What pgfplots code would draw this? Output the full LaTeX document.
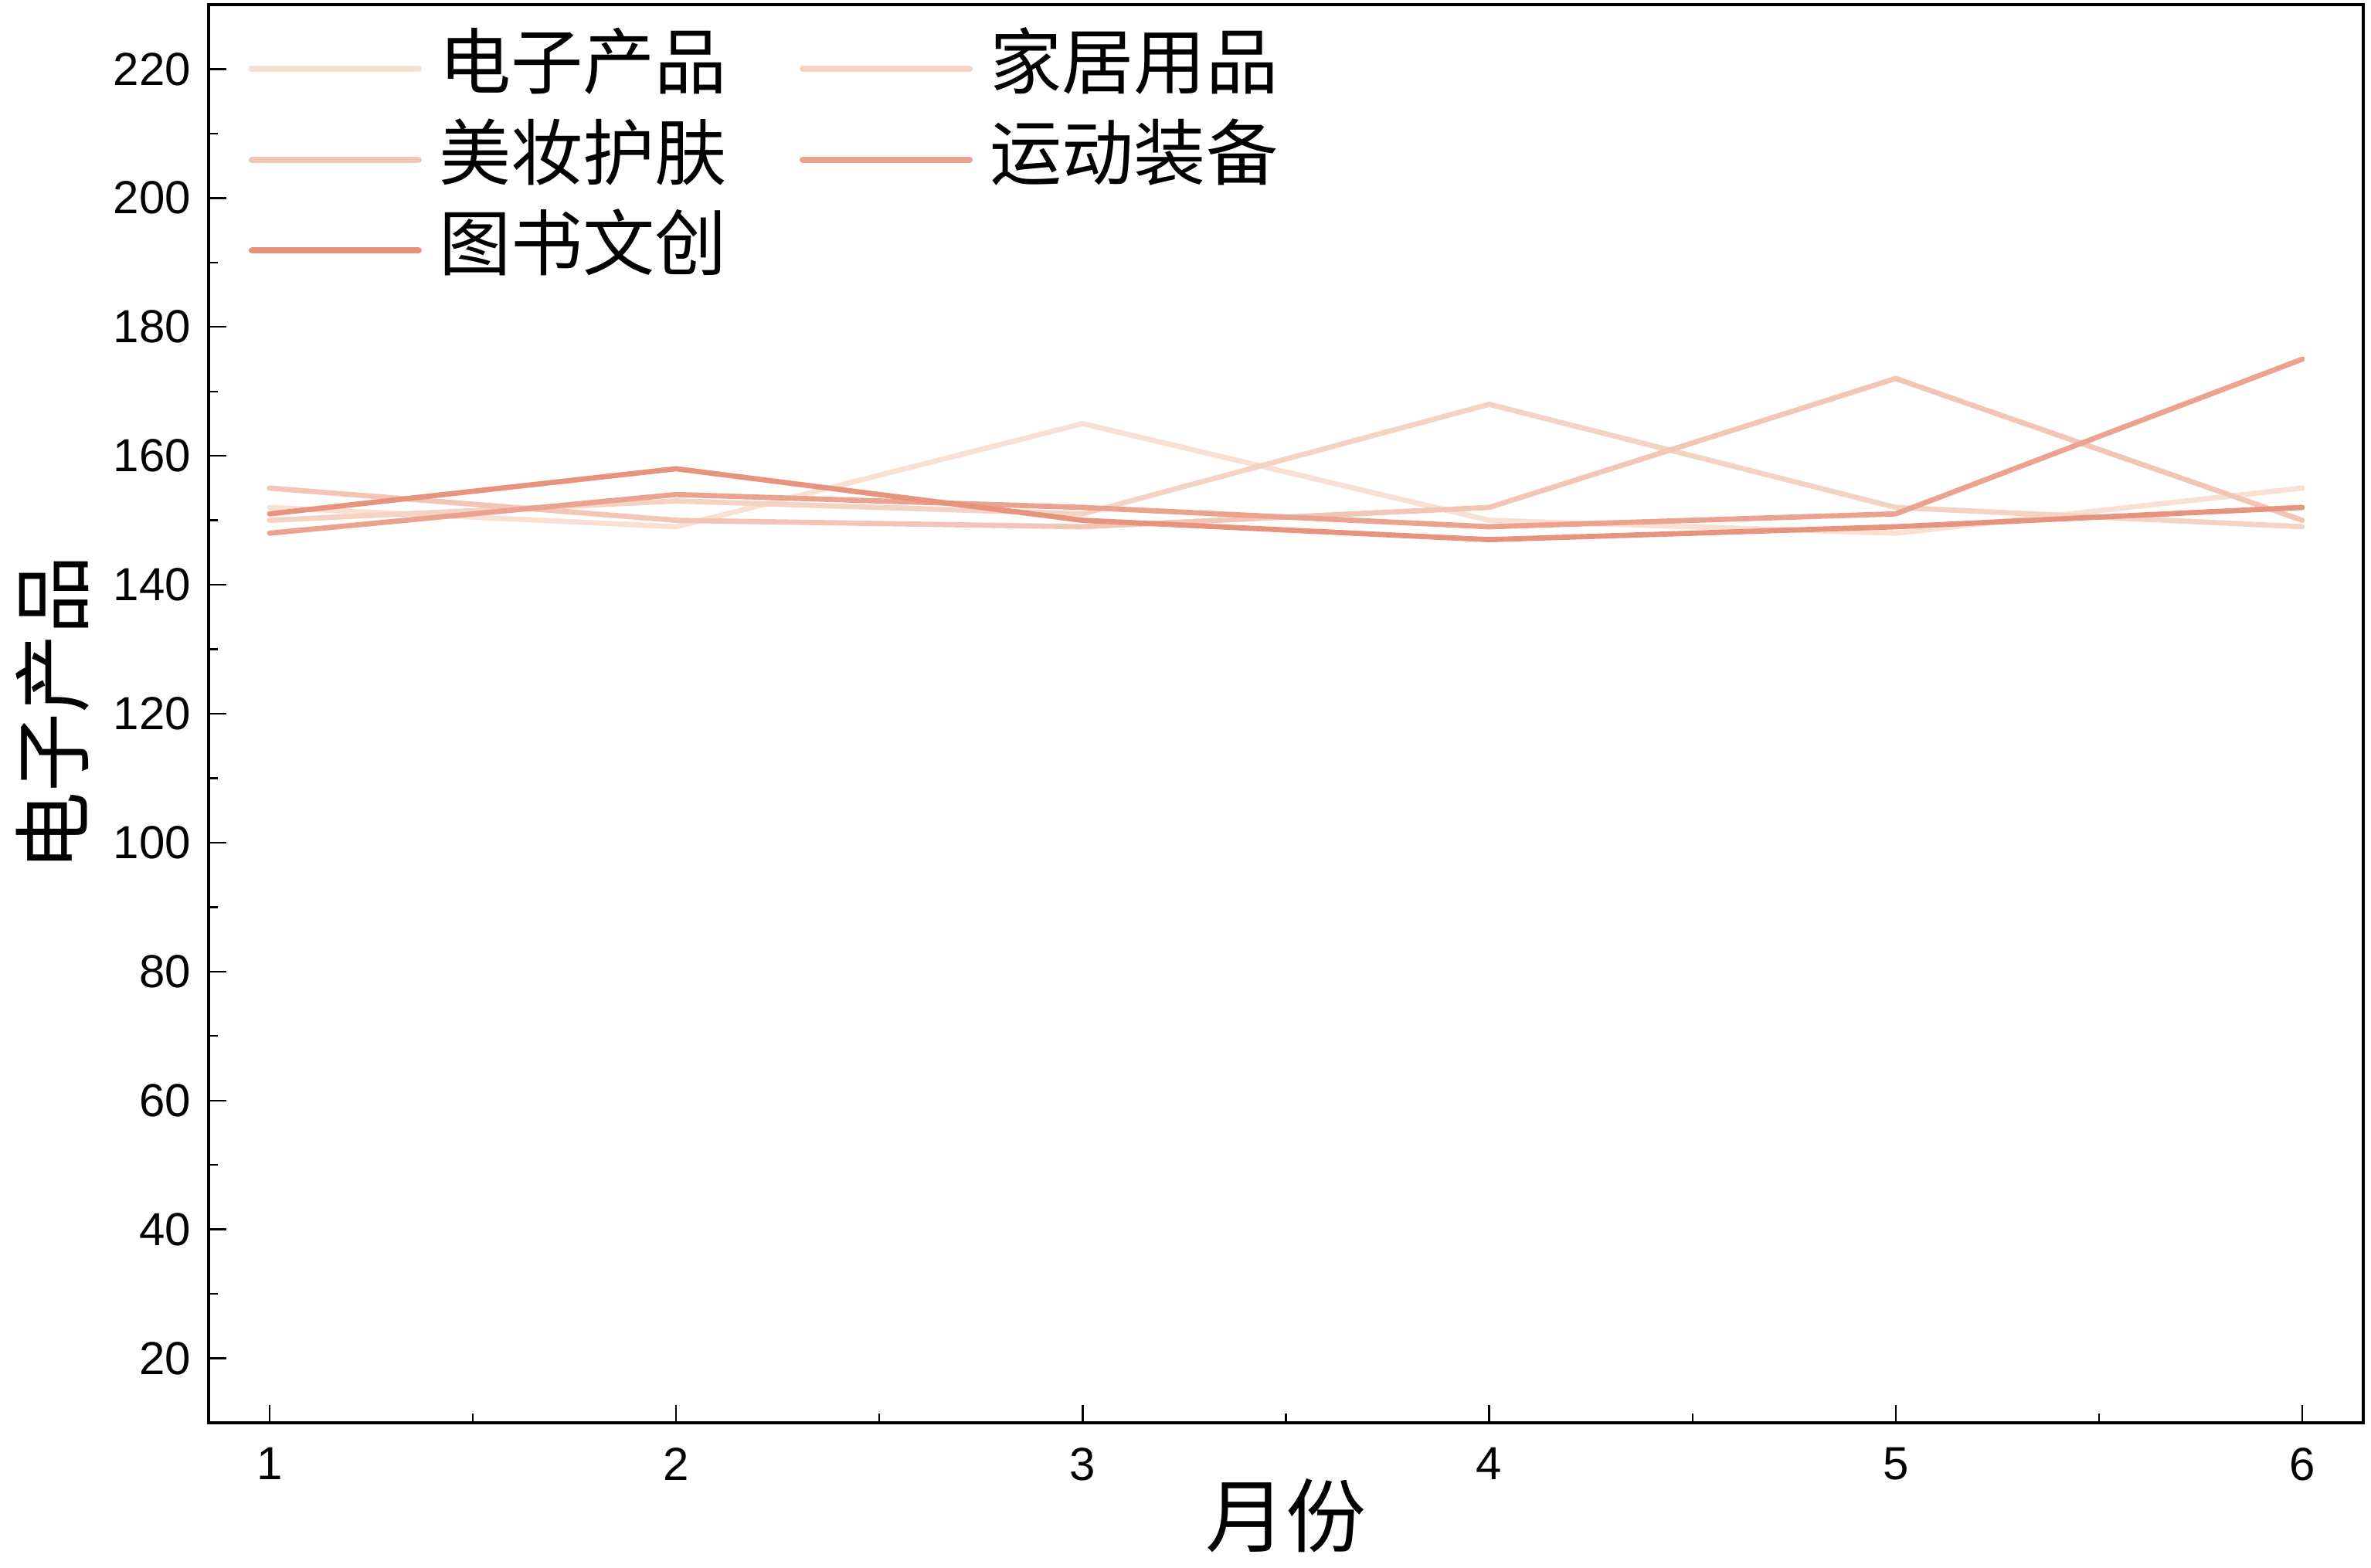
\documentclass[border=0pt]{standalone}
\usepackage{fontspec}
\setmainfont{Liberation Sans}
\newfontfamily\cjk{Noto Sans CJK SC}
\usepackage{pgfplots}
\pgfplotsset{compat=1.18}
\definecolor{c1}{HTML}{F8E0D2}
\definecolor{c2}{HTML}{F5D3C3}
\definecolor{c3}{HTML}{F3C5B4}
\definecolor{c4}{HTML}{EBA28F}
\definecolor{c5}{HTML}{E8937E}
\begin{document}
\begin{tikzpicture}
\begin{axis}[
  scale only axis, width=697.25pt, height=459pt,
  xmin=0.85, xmax=6.15, ymin=10, ymax=230,
  xtick={1,2,3,4,5,6}, ytick={20,40,...,220},
  minor x tick num=1, minor y tick num=1,
  tick align=inside, tick pos=left,
  major tick length=5.8pt, minor tick length=3pt,
  every tick/.style={black, line width=0.6pt},
  axis line style={line width=1pt},
  /pgf/number format/assume math mode=true,
  tick label style={font=\fontsize{15}{18}\selectfont},
  xticklabel style={yshift=-4.5pt},
  yticklabel style={xshift=-2.2pt},
  xlabel={\cjk 月份},
  xlabel style={at={(axis description cs:0.5,-0.0654)}, anchor=center, font=\fontsize{26}{30}\selectfont},
  ylabel={\cjk 电子产品},
  ylabel style={at={(axis description cs:-0.0724,0.5)}, anchor=center, font=\fontsize{25.5}{30}\selectfont},
  legend columns=2,
  legend cell align=left,
  legend image code/.code={\draw[#1, line width=2pt, line cap=round] (0pt,2pt) -- (54pt,2pt);},
  legend style={draw=none, fill=none, inner sep=0pt, outer sep=0pt,
    at={(axis description cs:0.0186,0.9823)}, anchor=north west,
    font=\cjk\fontsize{23.3}{27}\selectfont,
    nodes={inner sep=0pt, text height=19pt, text depth=10.4pt},
    column sep=5.6pt,
    /tikz/every even column/.append style={column sep=23.5pt}},
  every axis plot/.append style={line width=1.7pt, line cap=round},
]
\addplot[c1] coordinates {(1,152) (2,149) (3,165) (4,150) (5,148) (6,155)};
\addlegendentry{电子产品}
\addplot[c2] coordinates {(1,150) (2,153) (3,151) (4,168) (5,152) (6,149)};
\addlegendentry{家居用品}
\addplot[c3] coordinates {(1,155) (2,150) (3,149) (4,152) (5,172) (6,150)};
\addlegendentry{美妆护肤}
\addplot[c4] coordinates {(1,148) (2,154) (3,152) (4,149) (5,151) (6,175)};
\addlegendentry{运动装备}
\addplot[c5] coordinates {(1,151) (2,158) (3,150) (4,147) (5,149) (6,152)};
\addlegendentry{图书文创}
\end{axis}
\path (current axis.south west) ++(-67.5pt,-47pt) coordinate (bl);
\path (current axis.north east) ++(2.5pt,1.5pt) coordinate (tr);
\pgfresetboundingbox
\path[use as bounding box] (bl) rectangle (tr);
\end{tikzpicture}
\end{document}
